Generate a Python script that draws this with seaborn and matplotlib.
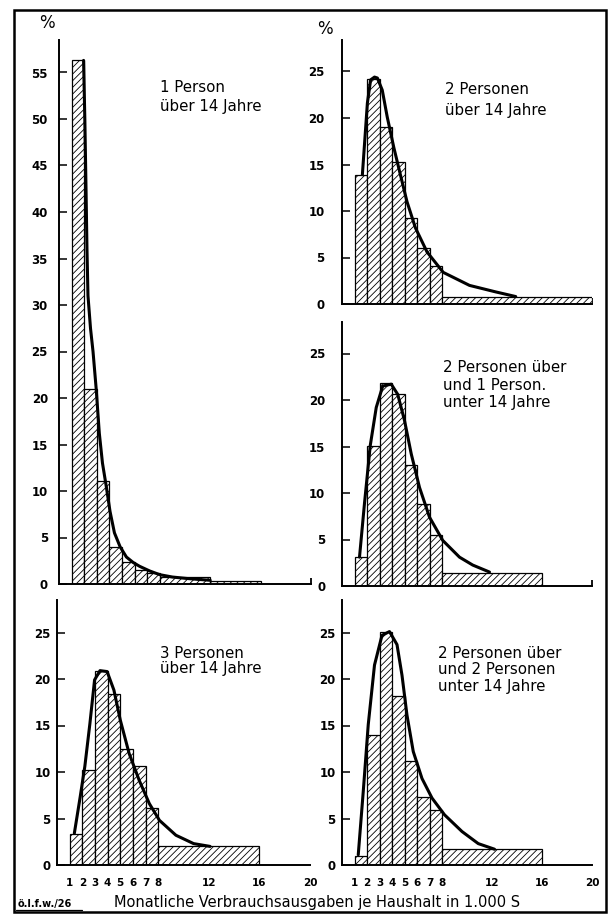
import numpy as np
import pandas as pd
import matplotlib
matplotlib.use("Agg")
import matplotlib.pyplot as plt
import seaborn as sns
from matplotlib.patches import Rectangle
from matplotlib.lines import Line2D

sns.set_theme(style="white")
plt.rcParams["font.family"] = ["DejaVu Sans"]
plt.rcParams["hatch.linewidth"] = 0.6
plt.rcParams["hatch.color"] = "black"

# ---------------- data ----------------
# bin edges (1.000 S) and share of households (%)
edges_1 = [1, 2, 3, 4, 5, 6, 7, 8, 12, 16]
pct_1 = [56.3, 21.0, 11.1, 4.0, 2.4, 1.5, 1.2, 0.7, 0.3]
curve_1_x = [1.95, 2.05, 2.15, 2.22, 2.3, 2.5, 2.7, 2.95, 3.2, 3.45, 3.75, 4.05,
             4.4, 4.85, 5.35, 5.9, 6.4, 7.2, 8.0, 9.0, 10.1, 11.0, 12.0]
curve_1_y = [56.3, 50.0, 42.0, 36.0, 31.0, 27.5, 25.0, 21.0, 16.2, 13.0, 10.5, 7.8,
             5.5, 4.0, 2.9, 2.3, 1.9, 1.4, 1.0, 0.75, 0.6, 0.5, 0.4]

edges_2 = [1, 2, 3, 4, 5, 6, 7, 8, 20]
pct_2 = [13.9, 24.2, 19.0, 15.3, 9.2, 6.0, 4.1, 0.8]
curve_2_x = [1.63, 2.03, 2.29, 2.6, 2.83, 3.22, 3.62, 4.15, 4.67, 5.2, 5.87, 6.8,
             8.1, 10.2, 12.3, 13.9]
curve_2_y = [13.9, 21.6, 24.1, 24.4, 24.3, 23.0, 20.1, 16.8, 13.9, 11.0, 8.2, 5.6,
             3.4, 2.0, 1.3, 0.8]

edges_3 = [1, 2, 3, 4, 5, 6, 7, 8, 16]
pct_3 = [3.1, 15.1, 21.8, 20.6, 13.0, 8.8, 5.5, 1.4]
curve_3_x = [1.4, 1.8, 2.26, 2.74, 3.26, 3.94, 4.46, 5.0, 5.54, 6.2, 7.0, 8.06,
             9.4, 10.46, 11.8]
curve_3_y = [3.1, 8.9, 15.1, 19.2, 21.5, 21.7, 20.6, 17.8, 14.2, 10.6, 7.4, 4.9,
             3.1, 2.25, 1.5]

edges_4 = [1, 2, 3, 4, 5, 6, 7, 8, 16]
pct_4 = [3.3, 10.2, 20.9, 18.4, 12.5, 10.6, 6.1, 2.0]
curve_4_x = [1.37, 1.83, 2.2, 2.6, 2.97, 3.4, 3.96, 4.5, 5.0, 5.7, 6.5, 7.3, 8.1,
             9.4, 10.8, 12.1]
curve_4_y = [3.4, 7.3, 10.6, 15.2, 19.9, 20.9, 20.8, 18.8, 15.6, 12.0, 9.1, 6.6,
             4.8, 3.2, 2.3, 2.0]

edges_5 = [1, 2, 3, 4, 5, 6, 7, 8, 16]
pct_5 = [1.0, 14.0, 25.1, 18.2, 11.2, 7.3, 5.9, 1.7]
curve_5_x = [1.3, 1.7, 2.1, 2.6, 3.2, 3.8, 4.4, 4.8, 5.2, 5.7, 6.4, 7.2, 8.2, 9.6,
             10.9, 12.2]
curve_5_y = [1.1, 7.9, 15.1, 21.5, 24.7, 25.1, 23.7, 20.4, 16.1, 12.2, 9.3, 7.2,
             5.4, 3.6, 2.3, 1.7]

titles = [
    ["1 Person", "über 14 Jahre"],
    ["2 Personen", "über 14 Jahre"],
    ["2 Personen über", "und 1 Person.", "unter 14 Jahre"],
    ["3 Personen", "über 14 Jahre"],
    ["2 Personen über", "und 2 Personen", "unter 14 Jahre"],
]
x_tick_values = [1, 2, 3, 4, 5, 6, 7, 8, 12, 16, 20]
x_tick_labels = ["1", "2", "3", "4", "5", "6", "7", "8", "12", "16", "20"]
x_label = "Monatliche Verbrauchsausgaben je Haushalt in 1.000 S"
source = "ö.I.f.w./26"

# ---------------- layout ----------------
W, H = 612, 915
fig = plt.figure(figsize=(W / 100, H / 100), dpi=100)
fig.patch.set_facecolor("white")

PX_PER_UNIT = 9.3


def add_ax(l, r, b, t):
    return fig.add_axes([l / W, 1 - b / H, (r - l) / W, (b - t) / H])


panels = [
    # (left, right, bottom, top, edges, pct, cx, cy, yticks, ypad, title_xy, line_gap, xlabels)
    (59, 311, 584, 40, edges_1, pct_1, curve_1_x, curve_1_y, range(0, 60, 5), 8.0,
     (160, 87), 19, False),
    (342, 592, 304, 40, edges_2, pct_2, curve_2_x, curve_2_y, range(0, 30, 5), 12.5,
     (445, 90), 20, False),
    (342, 592, 586, 322, edges_3, pct_3, curve_3_x, curve_3_y, range(0, 30, 5), 12.0,
     (443, 367), 18, False),
    (57, 310, 865, 600, edges_4, pct_4, curve_4_x, curve_4_y, range(0, 30, 5), 4.5,
     (160, 653), 15, True),
    (342, 592, 865, 600, edges_5, pct_5, curve_5_x, curve_5_y, range(0, 30, 5), 4.5,
     (438, 653), 16.5, True),
]

for i, (l, r, b, t, edges, pct, cx, cy, yt, ypad, txy, gap, showx) in enumerate(panels):
    ax = add_ax(l, r, b, t)
    ax.set_facecolor("none")
    mids = [(edges[k] + edges[k + 1]) / 2 for k in range(len(pct))]
    df = pd.DataFrame({"mid": mids, "pct": pct})
    sns.histplot(data=df, x="mid", weights="pct", bins=edges, stat="count",
                 ax=ax, color="white", alpha=1, edgecolor="black",
                 linewidth=0.9, hatch="/////")
    sns.lineplot(x=cx, y=cy, ax=ax, color="black", linewidth=2.2,
                 sort=False, estimator=None)
    ax.set_xlim(0, 20)
    ax.set_ylim(0, (b - t) / PX_PER_UNIT)
    ax.set_xlabel("")
    ax.set_ylabel("")
    for s in ["top", "right"]:
        ax.spines[s].set_visible(False)
    for s in ["left", "bottom"]:
        ax.spines[s].set_color("black")
        ax.spines[s].set_linewidth(1.4)
    ax.set_yticks(list(yt))
    ax.set_yticklabels([str(v) for v in yt], fontsize=8.5, fontweight="bold")
    ax.tick_params(axis="y", direction="in", length=6, width=1.1, color="black",
                   pad=ypad, labelcolor="black", left=True)
    if showx:
        ax.set_xticks(x_tick_values)
        ax.set_xticklabels(x_tick_labels, fontsize=7.5, fontweight="bold")
        ax.tick_params(axis="x", length=0, pad=9, labelcolor="black")
    else:
        ax.set_xticks([])
    ax.set_xticks([20], minor=True)
    ax.tick_params(axis="x", which="minor", direction="in", length=4.5,
                   width=1.3, color="black", bottom=True)
    ax.grid(False)
    tx, ty = txy
    for j, line in enumerate(titles[i]):
        fig.text(tx / W, 1 - (ty + j * gap) / H, line, fontsize=10.8,
                 ha="left", va="center", color="black")

# percent signs
fig.text(47 / W, 1 - 23 / H, "%", fontsize=12, ha="center", va="center", color="black")
fig.text(325 / W, 1 - 29 / H, "%", fontsize=12, ha="center", va="center", color="black")

# axis title and source
fig.text(317 / W, 1 - 902 / H, x_label, fontsize=10.5, ha="center", va="center",
         color="black")
fig.text(18 / W, 1 - 904 / H, source, fontsize=7, fontweight="bold", ha="left",
         va="center", color="black")
fig.add_artist(Line2D([16 / W, 82 / W], [1 - 910 / H, 1 - 910 / H],
                      color="black", lw=0.9))

# outer frame
fig.add_artist(Rectangle((14 / W, 1 - 912 / H), (606 - 14) / W, (912 - 10) / H,
                         fill=False, edgecolor="black", lw=1.8,
                         transform=fig.transFigure))

fig.savefig("out.png", dpi=100, facecolor="white")
